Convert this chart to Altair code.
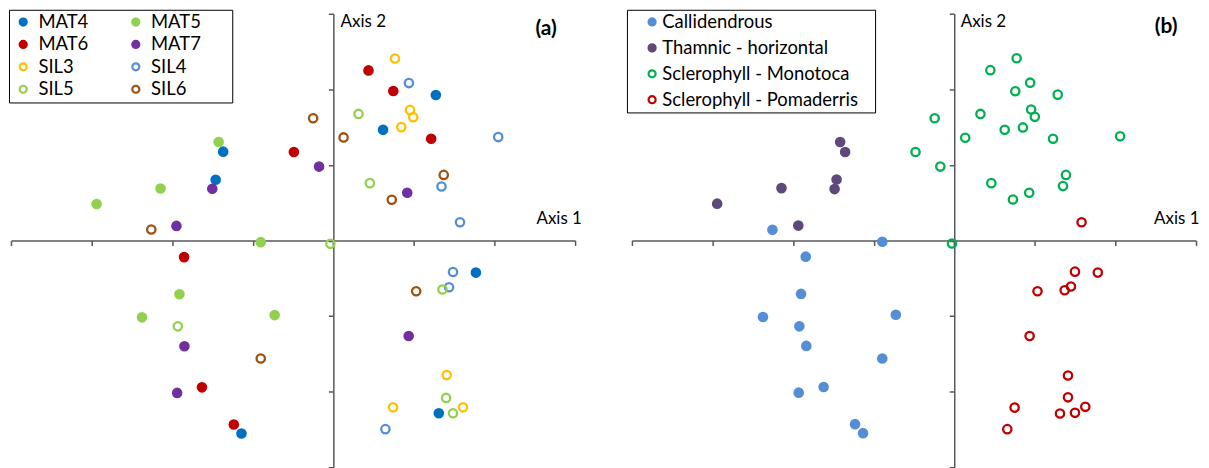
import altair as alt
import pandas as pd

# ---------------- Panel (a) data ----------------
groups_a = ["MAT4", "MAT5", "MAT6", "MAT7", "SIL3", "SIL4", "SIL5", "SIL6"]
mat4_x = [-1.367, -1.460, 1.272, 0.617, 1.769, 1.309, -1.140]
mat4_y = [1.175, 0.803, 1.925, 1.464, -0.425, -2.286, -2.553]
mat5_x = [-1.423, -2.144, -2.938, -0.901, -1.910, -2.374, -0.728]
mat5_y = [1.303, 0.688, 0.483, -0.022, -0.711, -1.017, -0.987]
mat6_x = [-0.490, 0.436, 0.744, 1.214, -1.852, -1.630, -1.235]
mat6_y = [1.171, 2.250, 1.978, 1.346, -0.220, -1.943, -2.434]
mat7_x = [-1.502, -1.947, -0.177, 0.917, -1.848, -1.938, 0.935]
mat7_y = [0.684, 0.193, 0.978, 0.632, -1.399, -2.017, -1.263]
sil3_x = [0.765, 0.951, 0.991, 0.843, 1.407, 0.741, 1.609]
sil3_y = [2.408, 1.728, 1.632, 1.500, -1.780, -2.207, -2.207]
sil4_x = [0.938, 2.046, 1.342, 1.572, 1.485, 1.436, 0.646]
sil4_y = [2.083, 1.368, 0.714, 0.241, -0.417, -0.618, -2.496]
sil5_x = [0.312, 0.453, -0.037, -1.930, 1.354, 1.399, 1.485]
sil5_y = [1.675, 0.759, -0.043, -1.136, -0.649, -2.083, -2.286]
sil6_x = [-2.259, -0.251, 0.127, 1.370, 0.725, 1.028, -0.901]
sil6_y = [0.145, 1.618, 1.364, 0.868, 0.539, -0.671, -1.562]

colors_a = ["#0070C0", "#92D050", "#C00000", "#7030A0", "#FFC000", "#558ED5", "#92D050", "#A0500F"]
filled_a = [True, True, True, True, False, False, False, False]

# ---------------- Panel (b) data ----------------
groups_b = ["Callidendrous", "Thamnic - horizontal", "Sclerophyll - Monotoca", "Sclerophyll - Pomaderris"]
call_x = [-2.256, -0.893, -1.843, -1.901, -2.374, -1.922, -0.725, -1.836, -0.893, -1.621, -1.930, -1.231, -1.132]
call_y = [0.141, -0.017, -0.214, -0.707, -1.013, -1.136, -0.983, -1.395, -1.562, -1.938, -2.013, -2.430, -2.549]
tham_x = [-1.416, -1.354, -1.460, -1.485, -2.144, -2.942, -1.935]
tham_y = [1.303, 1.171, 0.807, 0.680, 0.693, 0.487, 0.197]
mono_x = [0.774, 0.448, 0.942, 0.757, 1.284, 0.325, 0.954, 1.000, -0.243, 0.852, 0.626,
          0.136, 1.226, 2.058, -0.481, -0.173, 1.386, 0.460, 1.349, 0.930, 0.728, -0.028]
mono_y = [2.412, 2.254, 2.088, 1.974, 1.930, 1.675, 1.733, 1.636, 1.618, 1.496, 1.464,
          1.359, 1.346, 1.378, 1.171, 0.978, 0.868, 0.759, 0.720, 0.632, 0.543, -0.039]
poma_x = [1.580, 1.498, 1.781, 1.448, 1.370, 1.033, 0.935, 1.411, 1.411, 1.626, 0.749, 1.312, 1.498, 0.658]
poma_y = [0.241, -0.412, -0.425, -0.609, -0.658, -0.671, -1.263, -1.786, -2.075, -2.201, -2.211, -2.289, -2.280, -2.496]

colors_b = ["#558ED5", "#5F497A", "#00B050", "#C00000"]
filled_b = [True, True, False, False]

# axis ranges and ticks
x_dom = [-4, 3]
y_dom = [-3, 3]
x_ticks = [-4, -3, -2, -1, 0, 1, 2, 3]
y_ticks = [-3, -2, -1, 0, 1, 2, 3]

# annotations (data units)
ann_axis = ["Axis 2", "Axis 1"]
ann_axis_a_x = [0.09, 2.52]
ann_axis_a_y = [2.89, 0.29]
ann_axis_b_x = [0.08, 2.48]
ann_axis_b_y = [2.89, 0.28]
panel_labels = ["(a)", "(b)"]
panel_label_x = [2.64, 2.63]
panel_label_y = [2.80, 2.82]

W = 566
H = 455
FONT = "Lato"
AXIS_COLOR = "#595959"
PAD_A = "\u2800" * 2   # blank filler widening the legend box on the right
PAD_B = "\u2800" * 1


def make_df(groups, xs, ys):
    rows = []
    for g, xl, yl in zip(groups, xs, ys):
        for xv, yv in zip(xl, yl):
            rows.append({"group": g, "x": xv, "y": yv})
    return pd.DataFrame(rows)


def panel(df, groups, colors, filled, legend_cfg, ann_x, ann_y, plabel, plx, ply):
    fills = [c if f else "transparent" for c, f in zip(colors, filled)]
    x_off = -W * (0 - x_dom[0]) / (x_dom[1] - x_dom[0])
    y_off = -H * (0 - y_dom[0]) / (y_dom[1] - y_dom[0])
    xenc = alt.X("x:Q", scale=alt.Scale(domain=x_dom, nice=False, zero=False),
                 axis=alt.Axis(values=x_ticks, labels=False, grid=False, title=None,
                               offset=y_off, domainColor=AXIS_COLOR, tickColor=AXIS_COLOR,
                               domainWidth=1.5, tickWidth=1.5, tickSize=5))
    yenc = alt.Y("y:Q", scale=alt.Scale(domain=y_dom, nice=False, zero=False),
                 axis=alt.Axis(values=y_ticks, labels=False, grid=False, title=None,
                               offset=x_off, domainColor=AXIS_COLOR, tickColor=AXIS_COLOR,
                               domainWidth=1.5, tickWidth=1.5, tickSize=5))
    leg = alt.Legend(title=None, orient="none", **legend_cfg)
    pts = alt.Chart(df).mark_point(shape="circle", size=70, strokeWidth=2.3, opacity=1).encode(
        x=xenc,
        y=yenc,
        fill=alt.Fill("group:N", scale=alt.Scale(domain=groups, range=fills), sort=groups, legend=leg),
        stroke=alt.Stroke("group:N", scale=alt.Scale(domain=groups, range=colors), sort=groups, legend=leg),
    )
    adf = pd.DataFrame({"t": ann_axis, "x": ann_x, "y": ann_y})
    axt = alt.Chart(adf).mark_text(align="left", baseline="middle", font=FONT, fontSize=17,
                                   color="#000000").encode(x="x:Q", y="y:Q", text="t:N")
    pdf = pd.DataFrame({"t": [plabel], "x": [plx], "y": [ply]})
    plt = alt.Chart(pdf).mark_text(align="center", baseline="middle", font=FONT, fontSize=21,
                                   fontWeight="bold", color="#000000").encode(x="x:Q", y="y:Q", text="t:N")
    return alt.layer(pts, axt, plt).properties(width=W, height=H)


df_a = make_df(groups_a, [mat4_x, mat5_x, mat6_x, mat7_x, sil3_x, sil4_x, sil5_x, sil6_x],
               [mat4_y, mat5_y, mat6_y, mat7_y, sil3_y, sil4_y, sil5_y, sil6_y])
df_b = make_df(groups_b, [call_x, tham_x, mono_x, poma_x], [call_y, tham_y, mono_y, poma_y])

right_col_a = groups_a[1::2]
leg_a = dict(legendX=-2, legendY=-4, columns=2, direction="horizontal", columnPadding=36,
             rowPadding=3.5, padding=3, labelOffset=6, symbolOffset=2, strokeColor="#000000",
             labelFont=FONT, labelFontSize=18.5, labelColor="#000000",
             labelExpr="indexof(" + str(right_col_a) + ", datum.label) >= 0 ? datum.label + '" + PAD_A + "' : datum.label",
             symbolSize=50, symbolStrokeWidth=2.2, symbolType="circle", fillColor="#FFFFFF")
leg_b = dict(legendX=-5, legendY=-4, columns=1, direction="vertical",
             rowPadding=7, padding=3, labelOffset=1, symbolOffset=13, strokeColor="#000000",
             labelFont=FONT, labelFontSize=18.5, labelColor="#000000", labelLimit=400,
             labelExpr="datum.label + '" + PAD_B + "'",
             symbolSize=50, symbolStrokeWidth=2.2, symbolType="circle", fillColor="#FFFFFF")

pa = panel(df_a, groups_a, colors_a, filled_a, leg_a, ann_axis_a_x, ann_axis_a_y,
           panel_labels[0], panel_label_x[0], panel_label_y[0])
pb = panel(df_b, groups_b, colors_b, filled_b, leg_b, ann_axis_b_x, ann_axis_b_y,
           panel_labels[1], panel_label_x[1], panel_label_y[1])

chart = alt.hconcat(pa, pb, spacing=57, bounds="flush").resolve_scale(
    fill="independent", stroke="independent"
).resolve_legend(fill="independent", stroke="independent").properties(
    padding={"left": 0, "top": 0, "right": 0, "bottom": 0}
).configure_view(stroke="transparent")

chart.save("out.html", embed_options={"renderer": "svg", "actions": False})
